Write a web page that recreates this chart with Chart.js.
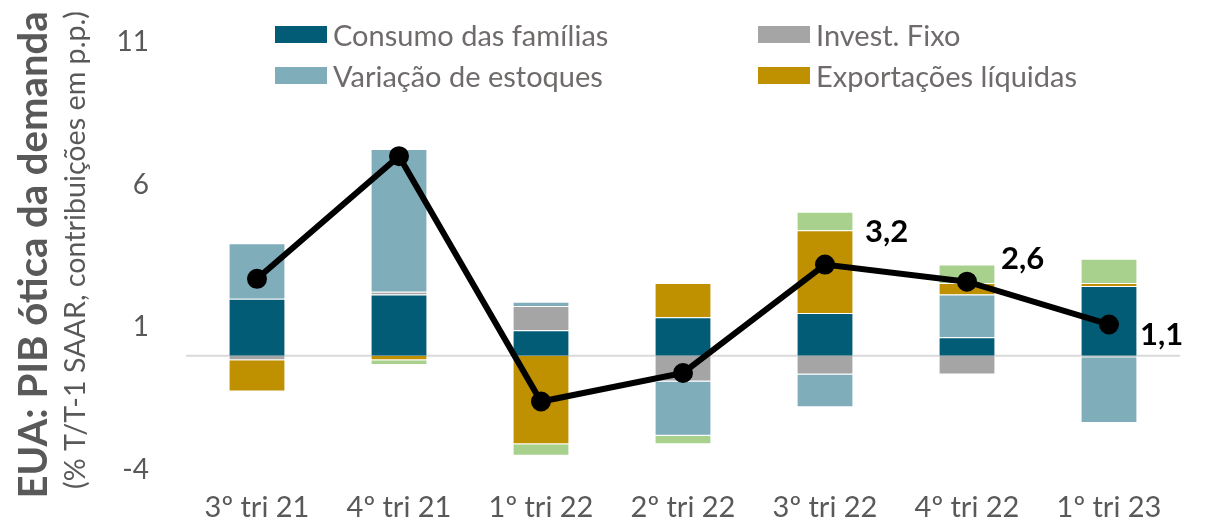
<!DOCTYPE html>
<html>
<head>
<meta charset="utf-8">
<script src="https://cdn.jsdelivr.net/npm/chart.js@4.4.0/dist/chart.umd.min.js"></script>
<style>
  body { margin: 0; background: #fff; }
  #wrap { position: relative; width: 1219px; height: 522px; }
  #legend { position: absolute; left: 275px; top: 17px; font-family: Lato, "Open Sans", sans-serif; font-size: 29px; color: #6f6b6b; }
  .item { position: absolute; white-space: nowrap; display: flex; align-items: center; }
  .box { display: inline-block; width: 52px; height: 17px; margin-right: 6px; }
</style>
</head>
<body>
<div id="wrap">
  <canvas id="chart" width="1219" height="522"></canvas>
  <div id="legend"></div>
</div>
<script>
const quarters = ['3º tri 21', '4º tri 21', '1º tri 22', '2º tri 22', '3º tri 22', '4º tri 22', '1º tri 23'];
const consumo = [2.0, 2.15, 0.9, 1.35, 1.5, 0.65, 2.45];
const investFixo = [-0.15, 0.1, 0.85, -0.9, -0.65, -0.65, -0.05];
const estoques = [1.95, 5.0, 0.15, -1.9, -1.15, 1.5, -2.3];
const exportacoes = [-1.1, -0.15, -3.1, 1.2, 2.9, 0.4, 0.1];
const governo = [0, -0.17, -0.4, -0.3, 0.65, 0.65, 0.85];
const pibTotal = [2.7, 7.0, -1.6, -0.6, 3.2, 2.6, 1.1];
const labeledPoints = [4, 5, 6];
const yTicks = [-4, 1, 6, 11];

const FONT = 'Lato, "Open Sans", sans-serif';

const series = [
  { label: 'Consumo das famílias', data: consumo, color: '#025c76', legendPos: [0, 0] },
  { label: 'Invest. Fixo', data: investFixo, color: '#a5a5a5', legendPos: [483, 0] },
  { label: 'Variação de estoques', data: estoques, color: '#7fadba', legendPos: [0, 41] },
  { label: 'Exportações líquidas', data: exportacoes, color: '#bf9000', legendPos: [483, 41] },
  { label: 'Governo', data: governo, color: '#a9d18e', legendPos: null }
];

// legenda em html, duas colunas
const legendEl = document.getElementById('legend');
series.forEach(s => {
  if (!s.legendPos) return;
  const div = document.createElement('div');
  div.className = 'item';
  div.style.left = s.legendPos[0] + 'px';
  div.style.top = s.legendPos[1] + 'px';
  div.innerHTML = `<span class="box" style="background:${s.color}"></span>${s.label}`;
  legendEl.appendChild(div);
});

// ajusta o tamanho da fonte para o texto ocupar o comprimento pedido
function fitFont(ctx, text, weight, baseSize, length) {
  ctx.font = weight + ' ' + baseSize + 'px ' + FONT;
  const w = ctx.measureText(text).width;
  ctx.font = weight + ' ' + (baseSize * length / w).toFixed(1) + 'px ' + FONT;
}

// titulo do eixo y em duas linhas com fontes diferentes
const axisTitle = {
  id: 'axisTitle',
  afterDraw(chart) {
    const ctx = chart.ctx;
    const t1 = 'EUA: PIB ótica da demanda';
    const t2 = '(% T/T-1 SAAR, contribuições em p.p.)';
    ctx.save();
    ctx.fillStyle = '#595959';
    ctx.textAlign = 'center';
    ctx.textBaseline = 'middle';
    ctx.translate(34, 255);
    ctx.rotate(-Math.PI / 2);
    fitFont(ctx, t1, 'bold', 30, 488);
    ctx.fillText(t1, 0, 0);
    fitFont(ctx, t2, 'normal', 24, 478);
    ctx.fillText(t2, 5, 42);
    ctx.restore();
  }
};

// linha do zero
const zeroLine = {
  id: 'zeroLine',
  beforeDatasetsDraw(chart) {
    const { ctx, chartArea, scales } = chart;
    const y = scales.y.getPixelForValue(0);
    ctx.save();
    ctx.strokeStyle = '#d9d9d9';
    ctx.lineWidth = 2;
    ctx.beginPath();
    ctx.moveTo(chartArea.left, y);
    ctx.lineTo(chartArea.right, y);
    ctx.stroke();
    ctx.restore();
  }
};

const pointLabels = {
  id: 'pointLabels',
  afterDatasetsDraw(chart) {
    const meta = chart.getDatasetMeta(chart.data.datasets.length - 1);
    const ctx = chart.ctx;
    const offsets = { 4: [40, -33], 5: [34, -23], 6: [31, 11] };
    ctx.save();
    ctx.font = 'bold 31px ' + FONT;
    ctx.fillStyle = '#000';
    ctx.textBaseline = 'middle';
    ctx.textAlign = 'left';
    labeledPoints.forEach(i => {
      const pt = meta.data[i];
      const off = offsets[i];
      ctx.fillText(pibTotal[i].toFixed(1).replace('.', ','), pt.x + off[0], pt.y + off[1]);
    });
    ctx.restore();
  }
};

const datasets = series.map(s => ({
  type: 'bar',
  label: s.label,
  data: s.data,
  backgroundColor: s.color,
  borderColor: 'rgba(255,255,255,0.6)',
  borderWidth: 1,
  barPercentage: 0.8,
  categoryPercentage: 0.5,
  order: 2
}));
datasets.push({
  type: 'line',
  label: 'PIB',
  data: pibTotal,
  borderColor: '#000',
  backgroundColor: '#000',
  borderWidth: 6,
  pointRadius: 7,
  pointBackgroundColor: '#000',
  tension: 0,
  order: 0
});

new Chart(document.getElementById('chart'), {
  data: { labels: quarters, datasets },
  options: {
    responsive: false,
    animation: false,
    layout: { padding: { left: 0, right: 39, top: 42, bottom: 0 } },
    plugins: { legend: { display: false }, tooltip: { enabled: false } },
    scales: {
      x: {
        stacked: true,
        grid: { display: false, drawTicks: false },
        border: { display: false },
        afterFit(axis) { axis.height = 52; },
        ticks: { color: '#595959', font: { family: FONT, size: 29 }, padding: 20 }
      },
      y: {
        stacked: true,
        min: -4,
        max: 11,
        afterBuildTicks(axis) { axis.ticks = yTicks.map(v => ({ value: v })); },
        afterFit(axis) {
          axis.width = 186;
          // o padding dos ticks nao deve empurrar a area do grafico
          axis.paddingTop = 0;
          axis.paddingBottom = 0;
        },
        grid: { display: false, drawTicks: false },
        border: { display: false },
        ticks: { color: '#595959', font: { family: FONT, size: 28 }, padding: 37 }
      }
    }
  },
  plugins: [axisTitle, zeroLine, pointLabels]
});
</script>
</body>
</html>
